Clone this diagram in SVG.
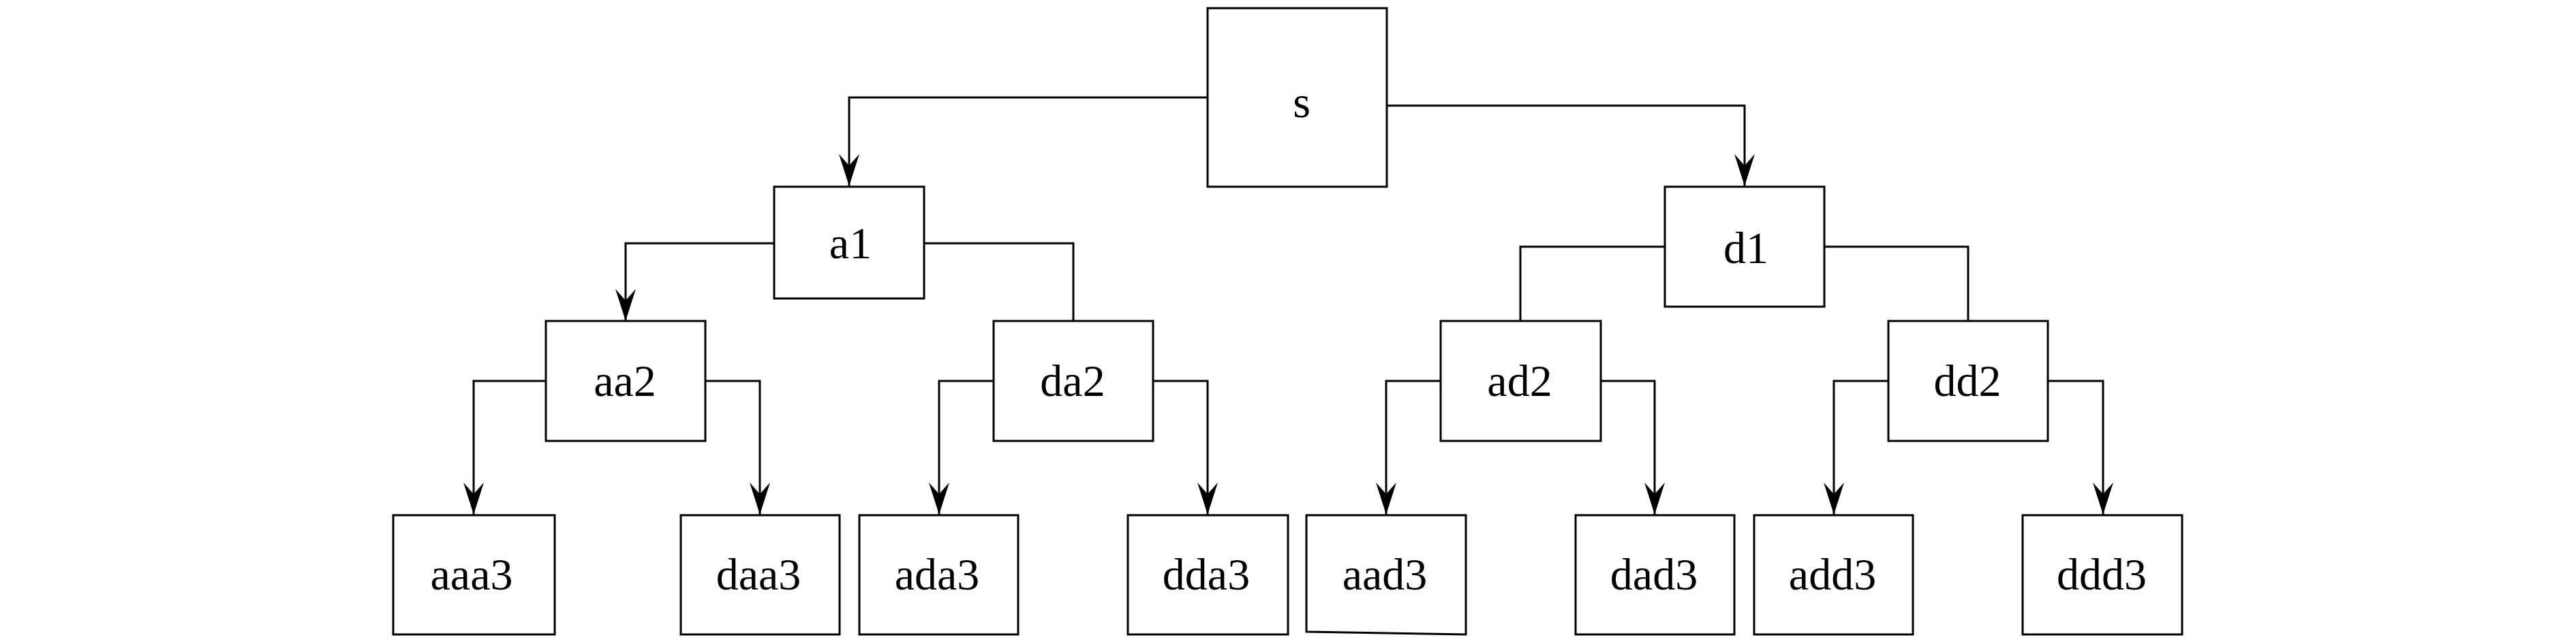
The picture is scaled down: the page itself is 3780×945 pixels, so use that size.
<svg xmlns="http://www.w3.org/2000/svg" width="3780" height="945" viewBox="0 0 3780 945">
<style>
.box{fill:#fff;stroke:#000;stroke-width:3}
.lbl{font-family:"Liberation Serif","Times New Roman",serif;font-size:66px;fill:#000;text-anchor:middle}
.conn path{fill:none;stroke:#000;stroke-width:3}
</style>
<defs>
<marker id="arr" markerUnits="userSpaceOnUse" viewBox="-48 -16 50 32" markerWidth="50" markerHeight="32" refX="0" refY="0" orient="auto">
<path d="M0,0 L-47,-15 L-30,0 L-47,15 Z" fill="#000"/>
</marker>
</defs>
<rect width="3780" height="945" fill="#fff"/>
<g id="connectors" class="conn">
<path d="M1772,143 H1246 V273" marker-end="url(#arr)"/>
<path d="M2035,155 H2560 V273" marker-end="url(#arr)"/>
<path d="M1136,357 H918 V471" marker-end="url(#arr)"/>
<path d="M1356,357 H1575 V471"/>
<path d="M2443,362 H2231 V471"/>
<path d="M2677,362 H2888 V471"/>
<path d="M801,559 H695 V755" marker-end="url(#arr)"/>
<path d="M1035,559 H1115 V755" marker-end="url(#arr)"/>
<path d="M1458,559 H1378 V755" marker-end="url(#arr)"/>
<path d="M1692,559 H1772 V755" marker-end="url(#arr)"/>
<path d="M2114,559 H2034 V755" marker-end="url(#arr)"/>
<path d="M2349,559 H2428 V755" marker-end="url(#arr)"/>
<path d="M2771,559 H2691 V755" marker-end="url(#arr)"/>
<path d="M3005,559 H3086 V755" marker-end="url(#arr)"/>
</g>
<g id="node-s"><rect class="box" x="1772" y="12" width="263" height="262"/><text class="lbl" x="1910" y="172">s</text></g>
<g id="node-a1"><rect class="box" x="1136" y="274" width="220" height="164"/><text class="lbl" x="1248" y="379">a1</text></g>
<g id="node-d1"><rect class="box" x="2443" y="274" width="234" height="176"/><text class="lbl" x="2562" y="386">d1</text></g>
<g id="node-aa2"><rect class="box" x="801" y="471" width="234" height="176"/><text class="lbl" x="917" y="581">aa2</text></g>
<g id="node-da2"><rect class="box" x="1458" y="471" width="234" height="176"/><text class="lbl" x="1574" y="581">da2</text></g>
<g id="node-ad2"><rect class="box" x="2114" y="471" width="235" height="176"/><text class="lbl" x="2230" y="581">ad2</text></g>
<g id="node-dd2"><rect class="box" x="2771" y="471" width="234" height="176"/><text class="lbl" x="2887" y="581">dd2</text></g>
<g id="node-aaa3"><rect class="box" x="577" y="756" width="237" height="175"/><text class="lbl" x="692" y="865">aaa3</text></g>
<g id="node-daa3"><rect class="box" x="999" y="756" width="233" height="175"/><text class="lbl" x="1113" y="865">daa3</text></g>
<g id="node-ada3"><rect class="box" x="1261" y="756" width="233" height="175"/><text class="lbl" x="1375" y="865">ada3</text></g>
<g id="node-dda3"><rect class="box" x="1655" y="756" width="235" height="175"/><text class="lbl" x="1770" y="865">dda3</text></g>
<g id="node-aad3"><path class="box" d="M1917,756 H2151 V931 L1917,927 Z"/><text class="lbl" x="2032" y="865">aad3</text></g>
<g id="node-dad3"><rect class="box" x="2312" y="756" width="233" height="175"/><text class="lbl" x="2427" y="865">dad3</text></g>
<g id="node-add3"><rect class="box" x="2574" y="756" width="233" height="175"/><text class="lbl" x="2689" y="865">add3</text></g>
<g id="node-ddd3"><rect class="box" x="2968" y="756" width="234" height="175"/><text class="lbl" x="3084" y="865">ddd3</text></g>
</svg>
